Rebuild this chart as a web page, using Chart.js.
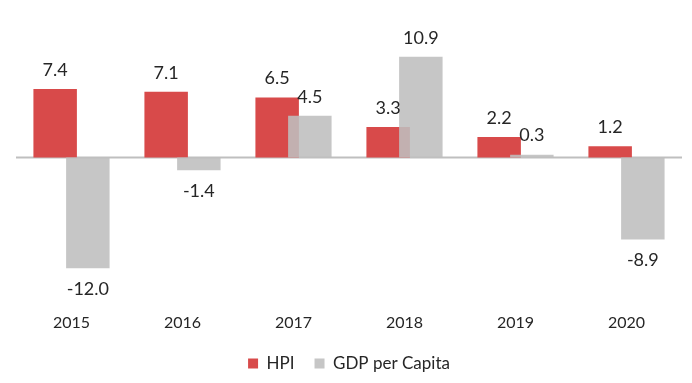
<!DOCTYPE html>
<html>
<head>
<meta charset="utf-8">
<script src="https://cdn.jsdelivr.net/npm/chart.js@4/dist/chart.umd.min.js"></script>
<style>
  html, body { margin: 0; padding: 0; background: #ffffff; }
  #wrap { width: 692px; height: 383px; position: relative; }
</style>
</head>
<body>
<div id="wrap"><canvas id="c"></canvas></div>
<script>
const categories = ['2015', '2016', '2017', '2018', '2019', '2020'];
const hpiValues = [7.4, 7.1, 6.5, 3.3, 2.2, 1.2];
const gdpValues = [-12.0, -1.4, 4.5, 10.9, 0.3, -8.9];
const seriesNames = ['HPI', 'GDP per Capita'];

const FONT = 'Lato, "Open Sans", sans-serif';
const TEXT = '#262626';

let lateDraw = false;
const GRAY_INDEX = 1;

const overlayPlugin = {
  id: 'overlay',
  beforeDatasetsDraw(chart) {
    const {ctx, chartArea} = chart;
    const y0 = chart.scales.y.getPixelForValue(0);
    ctx.save();
    ctx.strokeStyle = '#bfbfbf';
    ctx.lineWidth = 2;
    ctx.beginPath();
    ctx.moveTo(chartArea.left, y0);
    ctx.lineTo(chartArea.right, y0);
    ctx.stroke();
    ctx.restore();
  },
  beforeDatasetDraw(chart, args) {
    if (args.index === GRAY_INDEX && !lateDraw) return false;
  },
  afterDatasetsDraw(chart) {
    lateDraw = true;
    const meta = chart.getDatasetMeta(GRAY_INDEX);
    if (meta && !meta.hidden) meta.controller.draw();
    lateDraw = false;
    const {ctx} = chart;
    ctx.save();
    ctx.font = '18px ' + FONT;
    ctx.fillStyle = TEXT;
    ctx.textAlign = 'center';
    ctx.textBaseline = 'middle';
    chart.data.datasets.forEach((ds, di) => {
      const m = chart.getDatasetMeta(di);
      if (m.hidden) return;
      m.data.forEach((bar, i) => {
        const v = ds.data[i];
        const y = v >= 0 ? bar.y - 19 : bar.y + 21;
        ctx.fillText(v.toFixed(1), bar.x, y);
      });
    });
    ctx.restore();
  }
};

new Chart(document.getElementById('c'), {
  type: 'bar',
  data: {
    labels: categories,
    datasets: [
      { label: seriesNames[0], data: hpiValues, backgroundColor: '#d84a4a',
        categoryPercentage: 0.589, barPercentage: 1.33 },
      { label: seriesNames[1], data: gdpValues, backgroundColor: 'rgba(190,190,190,0.88)',
        categoryPercentage: 0.589, barPercentage: 1.33 }
    ]
  },
  options: {
    responsive: true,
    maintainAspectRatio: false,
    animation: false,
    layout: { padding: { top: 29.5, left: 16, right: 10, bottom: 1 } },
    scales: {
      x: {
        grid: { display: false, drawTicks: false },
        border: { display: false },
        ticks: { color: TEXT, font: { family: FONT, size: 16 }, padding: 3 }
      },
      y: {
        display: false,
        min: -16.5,
        max: 13.85
      }
    },
    plugins: {
      legend: {
        position: 'bottom',
        labels: {
          color: TEXT,
          font: { family: FONT, size: 17 },
          boxWidth: 10,
          boxHeight: 10,
          padding: 20
        }
      },
      tooltip: { enabled: false }
    }
  },
  plugins: [overlayPlugin]
});
</script>
</body>
</html>
